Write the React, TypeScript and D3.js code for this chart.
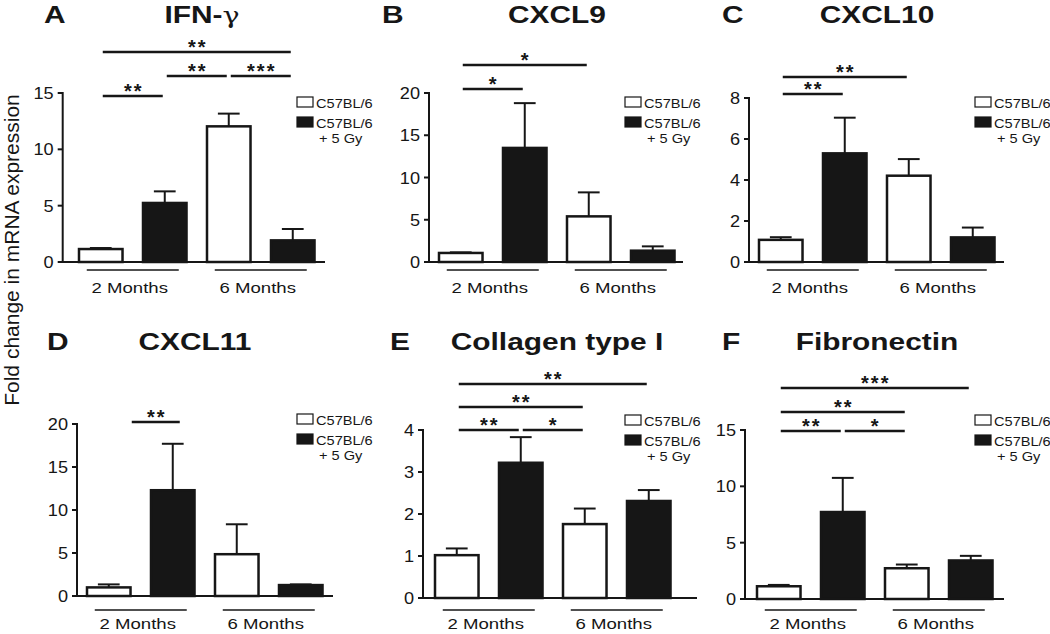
import React from "react";
import * as d3 from "d3";

// ---------- data ----------
const groupLabels = ["2 Months", "6 Months"];
const legendLabels = ["C57BL/6", "C57BL/6", "+ 5 Gy"];
const panelLetters = ["A", "B", "C", "D", "E", "F"];
const panelTitles = ["IFN-γ", "CXCL9", "CXCL10", "CXCL11", "Collagen type I", "Fibronectin"];
// bar order: 2M control, 2M +5Gy, 6M control, 6M +5Gy
const barIrradiated = [false, true, false, true];

const ifngMean = [1.15, 5.24, 12.04, 1.92];
const ifngSem = [0.09, 1.03, 1.13, 1.01];
const cxcl9Mean = [1.07, 13.5, 5.4, 1.34];
const cxcl9Sem = [0.07, 5.3, 2.84, 0.51];
const cxcl10Mean = [1.08, 5.3, 4.21, 1.2];
const cxcl10Sem = [0.13, 1.74, 0.81, 0.48];
const cxcl11Mean = [1.0, 12.3, 4.86, 1.27];
const cxcl11Sem = [0.35, 5.4, 3.48, 0.08];
const collagenMean = [1.02, 3.22, 1.76, 2.31];
const collagenSem = [0.16, 0.61, 0.37, 0.26];
const fibronectinMean = [1.13, 7.72, 2.73, 3.42];
const fibronectinSem = [0.12, 3.03, 0.33, 0.41];

const yMaxes = [15, 20, 8, 20, 4, 15];
const yTicks = [
  [0, 5, 10, 15],
  [0, 5, 10, 15, 20],
  [0, 2, 4, 6, 8],
  [0, 5, 10, 15, 20],
  [0, 1, 2, 3, 4],
  [0, 5, 10, 15],
];

// significance comparisons: [fromBar, toBar, level, label]
const sigA = [[0, 1, 0, "**"], [1, 2, 1, "**"], [2, 3, 1, "***"], [0, 3, 2, "**"]];
const sigB = [[0, 1, 0, "*"], [0, 2, 1, "*"]];
const sigC = [[0, 1, 0, "**"], [0, 2, 1, "**"]];
const sigD = [[0, 1, 0, "**"]];
const sigE = [[0, 1, 0, "**"], [1, 2, 0, "*"], [0, 2, 1, "**"], [0, 3, 2, "**"]];
const sigF = [[0, 1, 0, "**"], [1, 2, 0, "*"], [0, 2, 1, "**"], [0, 3, 2, "***"]];

const means = [ifngMean, cxcl9Mean, cxcl10Mean, cxcl11Mean, collagenMean, fibronectinMean];
const sems = [ifngSem, cxcl9Sem, cxcl10Sem, cxcl11Sem, collagenSem, fibronectinSem];
const sigs = [sigA, sigB, sigC, sigD, sigE, sigF];

const yAxisTitle = "Fold change in mRNA expression";

// ---------- layout (pixels) ----------
const layouts = [
  { axisX: 62.7, y0: 262, yTop: 93, barStart: 79, axisEnd: 325, titleX: 202, letterX: 44, titleY: 23, legendX: 297, legendY: 97, underY: 270, groupY: 293, sigY: [96, 76, 52], sigShift: [0, 0] },
  { axisX: 429, y0: 262, yTop: 93, barStart: 439, axisEnd: 683, titleX: 557, letterX: 382, titleY: 23, legendX: 625, legendY: 97, underY: 270, groupY: 293, sigY: [89, 65], sigShift: [0, 0] },
  { axisX: 749, y0: 262, yTop: 98, barStart: 759, axisEnd: 1004, titleX: 877, letterX: 722, titleY: 23, legendX: 975, legendY: 97, underY: 270, groupY: 293, sigY: [94, 77], sigShift: [0, 0] },
  { axisX: 77, y0: 596, yTop: 424, barStart: 87, axisEnd: 333, titleX: 195, letterX: 47, titleY: 350, legendX: 297, legendY: 414, underY: 610, groupY: 629, sigY: [422], sigShift: [21, 9] },
  { axisX: 423, y0: 598, yTop: 430, barStart: 435, axisEnd: 697, titleX: 557, letterX: 390, titleY: 350, legendX: 625, legendY: 415, underY: 610, groupY: 629, sigY: [430, 407, 384], sigShift: [0, 0] },
  { axisX: 745, y0: 599, yTop: 430, barStart: 757, axisEnd: 1004, titleX: 877, letterX: 722, titleY: 350, legendX: 975, legendY: 415, underY: 610, groupY: 629, sigY: [431, 412, 388], sigShift: [0, 0] },
];

const INK = "#161616";
const FONT = "'Liberation Sans', Arial, Helvetica, sans-serif";

function T(props: any) {
  const { x, y, size, anchor = "start", weight = "normal", sx = 1, children, ls = 0 } = props;
  return (
    <text
      transform={`translate(${x},${y}) scale(${sx},1)`}
      fontSize={size}
      fontWeight={weight}
      textAnchor={anchor}
      fontFamily={FONT}
      fill={INK}
      letterSpacing={ls}
    >
      {children}
    </text>
  );
}

function Title({ text }: { text: string }) {
  // render a Greek gamma in a thinner serif face, like the reference
  const parts = text.split(/(γ)/);
  return (
    <>
      {parts.map((p, i) =>
        p === "γ" ? (
          <tspan key={i} fontFamily="'DejaVu Serif', serif" fontWeight="normal" fontSize={22}>
            {p}
          </tspan>
        ) : (
          <tspan key={i}>{p}</tspan>
        )
      )}
    </>
  );
}

function Panel({ idx }: { idx: number }) {
  const L = layouts[idx];
  const mean = means[idx];
  const sem = sems[idx];
  const bandWidth = 64 * (4 - 0.32);
  const x = d3
    .scaleBand<number>()
    .domain([0, 1, 2, 3])
    .range([L.barStart, L.barStart + bandWidth])
    .paddingInner(0.32)
    .paddingOuter(0);
  const y = d3.scaleLinear().domain([0, yMaxes[idx]]).range([L.y0, L.yTop]);
  const bw = x.bandwidth();
  const center = (i: number) => (x(i) as number) + bw / 2;

  return (
    <g>
      <T x={L.letterX} y={L.titleY} size={23} weight="bold" sx={1.3}>{panelLetters[idx]}</T>
      <T x={L.titleX} y={L.titleY} size={23} weight="bold" sx={1.3} anchor="middle">
        <Title text={panelTitles[idx]} />
      </T>

      {/* y axis */}
      <line x1={L.axisX} x2={L.axisX} y1={L.y0} y2={y(yMaxes[idx]) - 1} stroke={INK} strokeWidth={2} />
      {yTicks[idx].map((t) => (
        <g key={t}>
          <line x1={L.axisX - 5} x2={L.axisX} y1={y(t)} y2={y(t)} stroke={INK} strokeWidth={2} />
          <T x={L.axisX - 9} y={y(t) + 6} size={16.5} sx={1.1} anchor="end">{t}</T>
        </g>
      ))}

      {/* bars */}
      {mean.map((m, i) => {
        const top = y(m);
        const errTop = y(m + sem[i]);
        const cx = center(i);
        return (
          <g key={i}>
            <line x1={cx} x2={cx} y1={top} y2={errTop} stroke={INK} strokeWidth={2} />
            <line x1={cx - bw / 4} x2={cx + bw / 4} y1={errTop} y2={errTop} stroke={INK} strokeWidth={2} />
            <rect
              x={x(i)}
              y={top}
              width={bw}
              height={L.y0 - top}
              fill={barIrradiated[i] ? INK : "#ffffff"}
              stroke={INK}
              strokeWidth={2.5}
            />
          </g>
        );
      })}

      {/* x axis */}
      <line x1={L.axisX - 1} x2={L.axisEnd} y1={L.y0} y2={L.y0} stroke={INK} strokeWidth={2} />

      {/* group underlines and labels */}
      {groupLabels.map((g, gi) => {
        const gc = (center(gi * 2) + center(gi * 2 + 1)) / 2;
        return (
          <g key={g}>
            <line x1={gc - 46} x2={gc + 46} y1={L.underY} y2={L.underY} stroke={INK} strokeWidth={1.6} />
            <T x={gc - 3} y={L.groupY} size={15.5} sx={1.2} anchor="middle">{g}</T>
          </g>
        );
      })}

      {/* significance */}
      {sigs[idx].map((s: any, si) => {
        const [a, b, level, label] = s;
        const x1 = center(a) + 2 + (a === 0 && b === 1 ? L.sigShift[0] : 0);
        const x2 = center(b) - 2 + (a === 0 && b === 1 ? L.sigShift[1] : 0);
        const yy = L.sigY[level];
        return (
          <g key={si}>
            <line x1={x1} x2={x2} y1={yy} y2={yy} stroke={INK} strokeWidth={2.6} />
            <T x={(x1 + x2) / 2 + 1} y={yy + 1.5} size={20} anchor="middle" ls={2} weight="bold">{label}</T>
          </g>
        );
      })}

      {/* legend */}
      <rect x={L.legendX} y={L.legendY} width={16} height={10} fill="#fff" stroke={INK} strokeWidth={1.2} />
      <T x={L.legendX + 19} y={L.legendY + 10.5} size={13.5} sx={1.08}>{legendLabels[0]}</T>
      <rect x={L.legendX} y={L.legendY + 20} width={16} height={10} fill={INK} stroke={INK} strokeWidth={1.2} />
      <T x={L.legendX + 19} y={L.legendY + 30.5} size={13.5} sx={1.08}>{legendLabels[1]}</T>
      <T x={L.legendX + 22} y={L.legendY + 46} size={13.5} sx={1.08}>{legendLabels[2]}</T>
    </g>
  );
}

export default function App() {
  return (
    <svg
      width={1050}
      height={634}
      viewBox="0 0 1050 634"
      style={{ position: "absolute", left: 0, top: 0, display: "block", background: "#fff" }}
    >
      <rect x={0} y={0} width={1050} height={634} fill="#fff" />
      {panelLetters.map((_, i) => (
        <Panel key={i} idx={i} />
      ))}
      <text
        transform="translate(19,250) rotate(-90) scale(1.05,1)"
        fontSize={20}
        textAnchor="middle"
        fontFamily={FONT}
        fill={INK}
      >
        {yAxisTitle}
      </text>
    </svg>
  );
}
